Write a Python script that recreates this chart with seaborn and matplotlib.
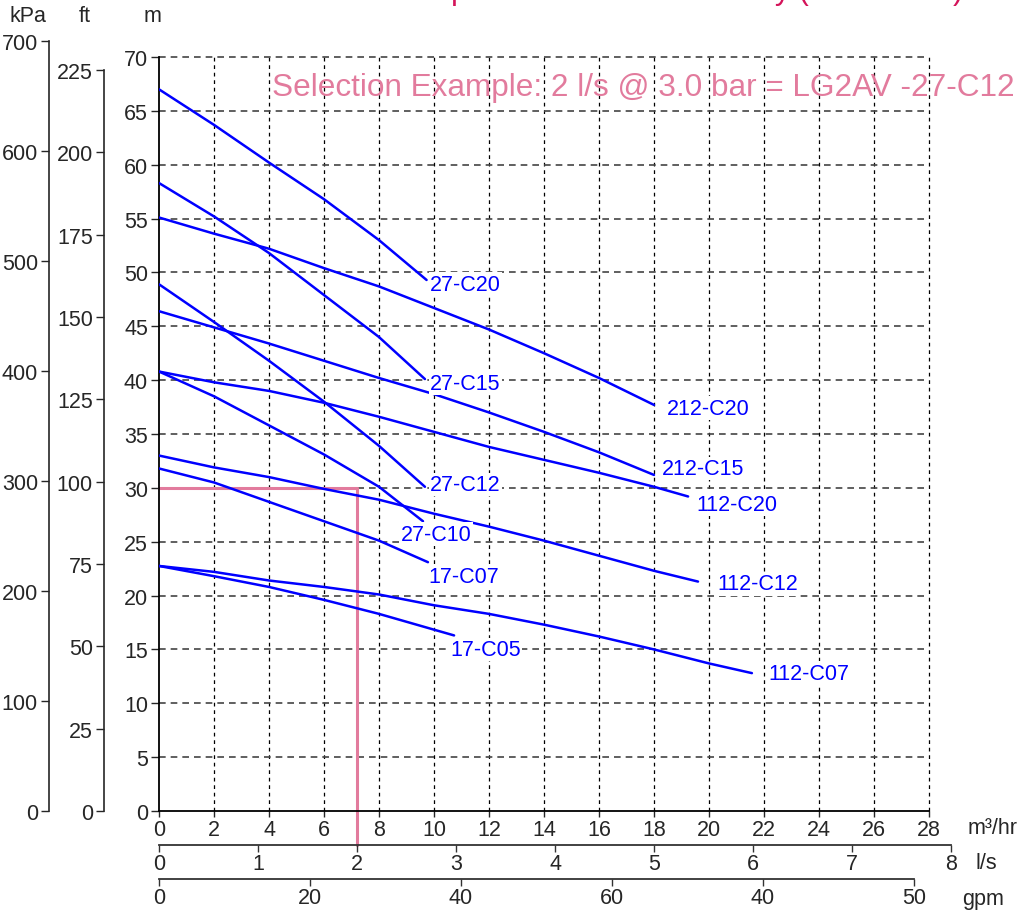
import numpy as np
import pandas as pd
import matplotlib
matplotlib.use("Agg")
import matplotlib.pyplot as plt
import seaborn as sns

# ------------------------------------------------------------------
# data (flow in m3/hr, head in m)
# ------------------------------------------------------------------
q_27_c20 = [0, 2, 4, 6, 8, 9.73]
h_27_c20 = [67.0, 63.7, 60.2, 56.8, 53.0, 49.3]
q_27_c15 = [0, 2, 4, 6, 8, 9.67]
h_27_c15 = [58.3, 55.2, 51.8, 47.9, 44.0, 40.1]
q_27_c12 = [0, 2, 4, 6, 8, 9.67]
h_27_c12 = [48.9, 45.4, 41.8, 38.0, 33.9, 30.1]
q_27_c10 = [0, 2, 4, 6, 8, 9.6]
h_27_c10 = [40.8, 38.5, 35.8, 33.1, 30.1, 26.9]
q_17_c07 = [0, 2, 4, 6, 8, 9.78]
h_17_c07 = [31.8, 30.5, 28.7, 26.9, 25.1, 23.1]
q_17_c05 = [0, 2, 4, 6, 8, 10.73]
h_17_c05 = [22.75, 21.8, 20.8, 19.6, 18.3, 16.3]
q_212_c20 = [0, 2, 4, 6, 8, 10, 12, 14, 16, 18]
h_212_c20 = [55.1, 53.6, 52.2, 50.4, 48.7, 46.7, 44.7, 42.5, 40.2, 37.7]
q_212_c15 = [0, 2, 4, 6, 8, 10, 12, 14, 16, 18]
h_212_c15 = [46.4, 44.9, 43.4, 41.8, 40.2, 38.7, 37.0, 35.2, 33.3, 31.2]
q_112_c20 = [0, 2, 4, 6, 8, 10, 12, 14, 16, 18, 19.24]
h_112_c20 = [40.8, 39.8, 39.0, 37.9, 36.6, 35.2, 33.8, 32.6, 31.4, 30.1, 29.2]
q_112_c12 = [0, 2, 4, 6, 8, 10, 12, 14, 16, 18, 19.6]
h_112_c12 = [33.0, 31.9, 31.0, 29.9, 28.9, 27.6, 26.4, 25.1, 23.7, 22.3, 21.3]
q_112_c07 = [0, 2, 4, 6, 8, 10, 12, 14, 16, 18, 20, 21.56]
h_112_c07 = [22.75, 22.2, 21.4, 20.8, 20.1, 19.1, 18.3, 17.3, 16.2, 15.0, 13.7, 12.8]

curves = {
    "27-C20": (q_27_c20, h_27_c20),
    "27-C15": (q_27_c15, h_27_c15),
    "27-C12": (q_27_c12, h_27_c12),
    "27-C10": (q_27_c10, h_27_c10),
    "17-C07": (q_17_c07, h_17_c07),
    "17-C05": (q_17_c05, h_17_c05),
    "212-C20": (q_212_c20, h_212_c20),
    "212-C15": (q_212_c15, h_212_c15),
    "112-C20": (q_112_c20, h_112_c20),
    "112-C12": (q_112_c12, h_112_c12),
    "112-C07": (q_112_c07, h_112_c07),
}

# where each curve name sits (left edge, vertical centre)
label_names = ["27-C20", "27-C15", "27-C12", "27-C10", "17-C07", "17-C05",
               "212-C20", "212-C15", "112-C20", "112-C12", "112-C07"]
label_q = [9.85, 9.85, 9.85, 8.8, 9.78, 10.6, 18.47, 18.29, 19.53, 20.29, 22.15]
label_h = [48.9, 39.7, 30.3, 25.7, 21.8, 15.0, 37.4, 31.8, 28.5, 21.1, 12.8]

# selection example: 2 l/s (7.2 m3/hr) at 30 m
sel_q = 7.2
sel_h = 30.0

m3hr_ticks = list(range(0, 29, 2))
m_ticks = list(range(0, 71, 5))
kpa_ticks = list(range(0, 701, 100))
ft_ticks = list(range(0, 226, 25))
ls_ticks = list(range(0, 9))
gpm_ticks = [0, 20, 40, 60, 80, 100]
gpm_labels = ["0", "20", "40", "60", "40", "50"]

rows = []
for name, (qs, hs) in curves.items():
    for q, h in zip(qs, hs):
        rows.append({"pump": name, "q": q, "h": h})
df = pd.DataFrame(rows)

# ------------------------------------------------------------------
# figure
# ------------------------------------------------------------------
sns.set_style("white")
plt.rcParams["font.family"] = ["Liberation Sans", "DejaVu Sans"]
FS = 15.5
BLUE = "#0000ff"
PINK = "#e27b9d"
AXC = "#333333"

W, H = 1021, 912
fig = plt.figure(figsize=(W / 100, H / 100), dpi=100)


def fx(px):
    return px / W


def fy(py):
    return 1 - py / H


# main axes: m vs m3/hr
ax = fig.add_axes([fx(159), fy(812), fx(929) - fx(159), fy(58) - fy(812)])
ax.set_xlim(0, 28)
ax.set_ylim(0, 70)
ax.set_xticks(m3hr_ticks)
ax.set_yticks(m_ticks)
ax.tick_params(axis="x", length=4, width=1, direction="out", bottom=True, pad=2, labelsize=FS)
ax.tick_params(axis="y", length=6, width=1, direction="out", left=True, pad=2, labelsize=FS)
for s in ["top", "right"]:
    ax.spines[s].set_visible(False)
for s in ["left", "bottom"]:
    ax.spines[s].set_color("black")
    ax.spines[s].set_linewidth(1.3)

for q in m3hr_ticks[1:]:
    ax.axvline(q, color="black", lw=0.9, ls=(0, (3, 3)), zorder=1, clip_on=False)
for h in m_ticks[1:]:
    ax.axhline(h, color="#444444", lw=1.2, ls=(0, (4, 3)), zorder=1, clip_on=False)

sns.lineplot(data=df, x="q", y="h", units="pump", estimator=None, sort=False,
             color=BLUE, linewidth=1.8, ax=ax, zorder=3, legend=False)
ax.set_xlabel("")
ax.set_ylabel("")

for name, q, h in zip(label_names, label_q, label_h):
    ax.text(q, h, name, color=BLUE, fontsize=FS, ha="left", va="center", zorder=4,
            bbox=dict(facecolor="white", edgecolor="none", pad=1.0))

# selection lines
ax.plot([0, sel_q], [sel_h, sel_h], color=PINK, lw=2.2, zorder=2, clip_on=False)
ax.plot([sel_q, sel_q], [sel_h, -3.2], color=PINK, lw=2.2, zorder=2, clip_on=False)

fig.text(fx(272), fy(88), "Selection Example: 2 l/s @ 3.0 bar = LG2AV -27-C12",
         color=PINK, fontsize=22.7, ha="left", va="center", zorder=5)

# kPa axis
ax_kpa = fig.add_axes([fx(49), fy(812), 0.001, fy(42) - fy(812)])
ax_kpa.set_ylim(0, 700)
ax_kpa.set_yticks(kpa_ticks)
ax_kpa.set_xticks([])
ax_kpa.patch.set_visible(False)
for s in ["top", "right", "bottom"]:
    ax_kpa.spines[s].set_visible(False)
ax_kpa.spines["left"].set_linewidth(1.2)
ax_kpa.tick_params(axis="y", length=6, width=1, direction="out", left=True, pad=2, labelsize=FS)

# ft axis
ax_ft = fig.add_axes([fx(104), fy(812), 0.001, fy(71) - fy(812)])
ax_ft.set_ylim(0, 225)
ax_ft.set_yticks(ft_ticks)
ax_ft.set_xticks([])
ax_ft.patch.set_visible(False)
for s in ["top", "right", "bottom"]:
    ax_ft.spines[s].set_visible(False)
ax_ft.spines["left"].set_linewidth(1.2)
ax_ft.tick_params(axis="y", length=6, width=1, direction="out", left=True, pad=2, labelsize=FS)

# l/s axis
ax_ls = fig.add_axes([fx(159), fy(846), fx(951) - fx(159), 0.001])
ax_ls.set_xlim(0, 8)
ax_ls.set_xticks(ls_ticks)
ax_ls.set_yticks([])
ax_ls.patch.set_visible(False)
for s in ["top", "right", "left"]:
    ax_ls.spines[s].set_visible(False)
ax_ls.spines["bottom"].set_color(AXC)
ax_ls.spines["bottom"].set_linewidth(1.3)
ax_ls.tick_params(axis="x", length=5, width=1, color=AXC, direction="out", bottom=True, pad=1, labelsize=FS)

# gpm axis
ax_gpm = fig.add_axes([fx(159), fy(880), fx(914) - fx(159), 0.001])
ax_gpm.set_xlim(0, 100)
ax_gpm.set_xticks(gpm_ticks)
ax_gpm.set_xticklabels(gpm_labels)
ax_gpm.set_yticks([])
ax_gpm.patch.set_visible(False)
for s in ["top", "right", "left"]:
    ax_gpm.spines[s].set_visible(False)
ax_gpm.spines["bottom"].set_color(AXC)
ax_gpm.spines["bottom"].set_linewidth(1.3)
ax_gpm.tick_params(axis="x", length=5, width=1, color=AXC, direction="out", bottom=True, pad=1, labelsize=FS)

# unit labels
fig.text(fx(28), fy(17), "kPa", fontsize=FS, ha="center", va="center")
fig.text(fx(85), fy(17), "ft", fontsize=FS, ha="center", va="center")
fig.text(fx(152), fy(17), "m", fontsize=FS, ha="center", va="center")
fig.text(fx(968), fy(828), "m³/hr", fontsize=FS, ha="left", va="center")
fig.text(fx(975), fy(864), "l/s", fontsize=FS, ha="left", va="center")
fig.text(fx(962), fy(900), "gpm", fontsize=FS, ha="left", va="center")

# title sits above the top edge, only its descenders show (as in the reference)
fig.text(fx(963), fy(-1), "LG2AV Pump Performance Summary (2900 RPM)",
         color="#d4145a", fontsize=22, ha="right", va="baseline")

fig.savefig("out.png", dpi=100)
